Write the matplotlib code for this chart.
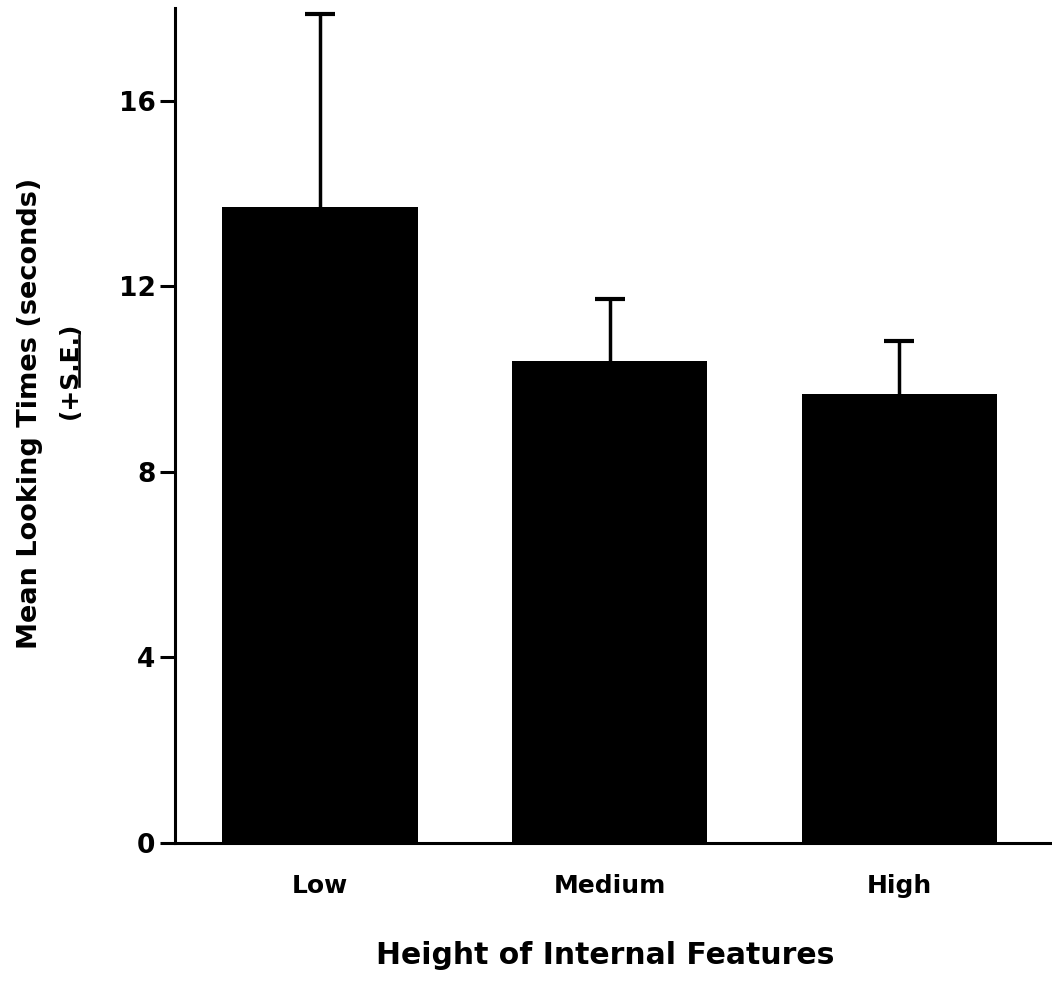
import matplotlib.pyplot as plt
from matplotlib.lines import Line2D

# Data
categories = ["Low", "Medium", "High"]
means = [13.7, 10.4, 9.68]
se = [4.17, 1.32, 1.14]
yticks = [0, 4, 8, 12, 16]

W, H = 1052, 983
fig = plt.figure(figsize=(W / 100, H / 100), dpi=100)
ax = fig.add_axes([175 / W, 140 / H, 875 / W, 835 / H])

x = list(range(len(categories)))
ax.bar(x, means, width=0.675, color="black")
_, caps, _ = ax.errorbar(x, means, yerr=[[0] * len(se), se], fmt="none",
                         ecolor="black", elinewidth=2.5, capsize=11, capthick=3)
caps[0].set_visible(False)  # only the upper cap

ax.set_xlim(-0.5, 2.52)
ax.set_ylim(0, 18)
ax.set_yticks(yticks)
ax.set_yticklabels([str(t) for t in yticks], fontsize=19, fontweight="bold")
ax.set_xticks(x)
ax.set_xticklabels(categories, fontsize=18, fontweight="bold")
ax.tick_params(axis="y", length=11, width=2.2, pad=3)
ax.tick_params(axis="x", length=0, pad=22)

for s in ["top", "right"]:
    ax.spines[s].set_visible(False)
ax.spines["left"].set_linewidth(2.2)
ax.spines["bottom"].set_linewidth(2.2)

fig.text(605 / W, 1 - 955 / H, "Height of Internal Features",
         ha="center", va="center", fontsize=21.5, fontweight="bold")

# y label in two lines, with S.E. underlined
fig.text(30 / W, 1 - 413 / H, "Mean Looking Times (seconds)",
         rotation=90, ha="center", va="center", fontsize=19.5, fontweight="bold")
fs2 = 18
t2 = fig.text(70 / W, 1 - 370 / H, "(+S.E.)",
              rotation=90, ha="center", va="center", fontsize=fs2, fontweight="bold")

fig.canvas.draw()
r = fig.canvas.get_renderer()
def text_width(s):
    tmp = fig.text(0, 0, s, fontsize=fs2, fontweight="bold")
    w = tmp.get_window_extent(r).width
    tmp.remove()
    return w
w1 = text_width("(+")
w2 = text_width("(+S.E.")
bb = t2.get_window_extent(r)
ux = bb.x1 - 3
fig.add_artist(Line2D([ux / W, ux / W], [(bb.y0 + w1) / H, (bb.y0 + w2 - 2) / H],
                      transform=fig.transFigure, color="black", lw=1.8))

fig.savefig("out.png", dpi=100)
